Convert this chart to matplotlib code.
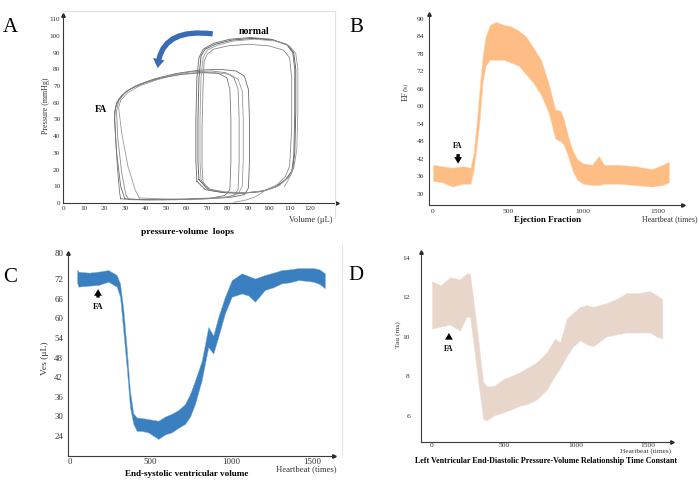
import matplotlib
matplotlib.use("Agg")
import matplotlib.pyplot as plt
from matplotlib.patches import FancyArrowPatch
from matplotlib.lines import Line2D

plt.rcParams['font.family'] = ['Liberation Serif', 'DejaVu Serif']

# ---------------- data ----------------
# Panel A: pressure-volume loops (volume uL, pressure mmHg)
fa1_v = [30, 40, 55, 70, 82, 88, 90, 90.5, 90.5, 90, 88, 84, 76, 66, 55, 45, 37, 31, 27, 25.5, 25, 26, 28, 30]
fa1_p = [2.5, 2, 2, 2.5, 3.5, 5, 9, 25, 50, 68, 76, 79, 80, 79.5, 77.5, 74.5, 71, 67, 62, 57, 50, 30, 10, 2.5]
fa2_v = [32, 42, 55, 68, 78, 83, 85, 85.5, 85.5, 85, 83, 79, 72, 62, 52, 43, 35, 30, 27, 26, 26.5, 28.5, 30.5, 32]
fa2_p = [2, 1.8, 2, 2.5, 3.2, 4.5, 8, 25, 50, 68, 75, 78, 79, 78.5, 76.5, 73.5, 70, 66, 61, 55, 40, 18, 5, 2]
fa3_v = [37, 48, 60, 72, 80, 85, 87, 87.5, 87.5, 87, 85, 81, 74, 64, 54, 45, 37, 31.5, 28, 27, 28.5, 31.5, 35, 37]
fa3_p = [3, 2.5, 2.3, 2.8, 3.8, 5.5, 10, 26, 50, 67, 74, 77, 78, 78, 76.5, 73.5, 70, 66, 61.5, 57, 42, 22, 8, 3]
fa4_v = [28, 38, 50, 62, 72, 78.5, 81, 81.5, 81.5, 81, 79.5, 75.5, 68, 58, 48, 40, 33, 28.5, 26, 25, 25.5, 26.5, 27.5, 28]
fa4_p = [2.5, 2, 2, 2.5, 3, 4.5, 8, 25, 50, 68, 75, 77.5, 78, 77, 75, 72, 68.5, 64.5, 60, 54, 40, 20, 6, 2.5]

n1_v = [66, 70, 78, 88, 97, 104, 109, 111.5, 112.5, 113, 113, 112, 109, 102, 92, 82, 74, 69, 67, 66, 65.5, 65.5, 66]
n1_p = [14, 8.5, 6.5, 6, 7, 10, 15, 20, 30, 55, 80, 90, 94.5, 97.5, 98.5, 97.5, 95, 92, 88, 75, 50, 25, 14]
n2_v = [68, 72, 80, 90, 98, 104, 108, 110, 111, 111, 110, 107, 100, 90, 80, 73, 70, 68.5, 68, 67.5, 67.5, 68]
n2_p = [12, 7.5, 6, 6.2, 7.5, 11, 16, 22, 45, 75, 87, 91.5, 94, 95, 94, 92, 89, 85, 70, 45, 22, 12]
n3_v = [65, 69, 77, 87, 96, 103, 108, 111, 112, 112.5, 112.5, 111.5, 108.5, 101, 91, 81, 73, 68, 66, 65, 64.5, 64.5, 65]
n3_p = [13, 8, 6.3, 5.8, 6.8, 9.5, 14, 19, 28, 55, 80, 90, 95, 98, 99, 98, 95.5, 92, 87, 75, 50, 25, 13]
n4_v = [67, 71, 79, 89, 98, 105, 109.5, 112, 113.5, 114, 114, 113, 110, 103, 93, 83, 75, 70, 68, 67, 66.5, 66.5, 67]
n4_p = [13.5, 8.2, 6.6, 6.2, 7.3, 10.5, 15.5, 21, 32, 55, 80, 89.5, 94, 97, 98, 97, 94.5, 91.5, 87, 75, 50, 25, 13.5]
seg1_v = [83, 88, 93, 97]
seg1_p = [0.5, 1.5, 3.5, 6.5]
seg2_v = [112.5, 111, 109, 107.5]
seg2_p = [25, 18, 13, 10]

# Panel B: ejection fraction envelope (%)
ef_x = [0, 60, 130, 200, 250, 270, 290, 310, 330, 350, 380, 420, 470, 520, 570, 620, 670, 720, 770,
        815, 850, 870, 900, 930, 960, 1000, 1060, 1105, 1140, 1240, 1350, 1460, 1530, 1573]
ef_hi = [40, 39.5, 39, 39.5, 39, 44, 54, 66, 77, 84, 88, 89, 88, 87.5, 86, 84, 80, 76, 68,
         59, 58.5, 56, 50, 45, 42, 40.5, 40, 43, 40, 40, 39.5, 38.5, 40, 41]
ef_lo = [34.5, 34, 32.5, 33.5, 33.5, 38, 46, 55, 68, 74, 76, 76, 76, 75, 74, 71, 68, 64, 58,
         49, 48, 47, 43, 38, 35, 33.5, 33, 33, 33.5, 33.5, 33, 32.5, 33, 34]

# Panel C: end-systolic volume envelope (uL)
ves_x = [45, 53, 120, 176, 238, 290, 311, 331, 352, 372, 393, 414, 450, 486, 548, 590, 630, 672, 713, 745,
         775, 816, 840, 857, 888, 919, 960, 1002, 1064, 1105, 1146, 1208, 1260, 1311, 1360, 1414, 1460, 1507, 1545, 1579]
ves_hi = [75, 74.3, 74, 74.3, 74.8, 73.3, 70.7, 63, 51, 38, 31, 29.7, 29.5, 29.2, 28.7, 30, 30.8, 32, 33.8, 37,
          41, 47, 53, 57.4, 54.8, 60.5, 66.6, 71.7, 73.8, 73, 72.2, 73.3, 74, 74.8, 75, 75.4, 75.4, 75.4, 75, 73.8]
ves_lo = [71, 69.7, 70, 70.2, 71.2, 69.7, 66.6, 56, 45, 33, 27.7, 25.6, 25.5, 25.1, 23.1, 24.5, 25.1, 26.5, 27.7, 30,
          33.8, 41, 47, 51.2, 49.2, 54.3, 61.5, 66.6, 67.6, 67, 65.1, 68.7, 69.5, 70.7, 71, 71.7, 71.5, 71.2, 70.5, 69.2]

# Panel D: Tau envelope (ms)
tau_x = [0, 60, 125, 194, 241, 264, 287, 321, 356, 380, 430, 495, 550, 611, 670, 727, 796, 854, 889, 935,
         980, 1028, 1075, 1120, 1213, 1280, 1352, 1430, 1514, 1560, 1600]
tau_hi = [12.8, 12.6, 13.0, 12.9, 13.2, 13.2, 11.9, 9.9, 7.7, 7.5, 7.5, 7.85, 8.0, 8.2, 8.45, 8.7, 9.2, 9.9, 9.7, 10.9,
          11.2, 11.5, 11.6, 11.5, 11.7, 11.9, 12.2, 12.2, 12.3, 12.1, 11.9]
tau_lo = [10.4, 10.5, 10.6, 10.3, 11.0, 11.0, 9.7, 7.7, 5.8, 5.75, 6.0, 6.16, 6.3, 6.5, 6.6, 6.8, 7.3, 8.0, 8.4, 9.0,
          9.5, 9.8, 9.6, 9.5, 10.0, 10.1, 10.2, 10.2, 10.2, 10.0, 9.9]

a_xticks = list(range(0, 130, 10))
a_yticks = list(range(0, 120, 10))
b_xticks = [0, 500, 1000, 1500]
b_yticks = [30, 36, 42, 48, 54, 60, 66, 72, 78, 84, 90]
c_yticks = [24, 30, 36, 42, 48, 54, 60, 66, 72, 80]
d_yticks = [6, 8, 10, 12, 14]

# ---------------- figure ----------------
W, H = 698, 492
fig = plt.figure(figsize=(W / 100, H / 100), dpi=100)


def rect(l, t, r, b):
    return [l / W, 1 - b / H, (r - l) / W, (b - t) / H]


def ft(x, y, s, **kw):
    return fig.text(x / W, 1 - y / H, s, **kw)


def style(ax, tsize, xpad, ypad):
    for s in ('top', 'right'):
        ax.spines[s].set_visible(False)
    for s in ('left', 'bottom'):
        ax.spines[s].set_color('#3a3a3a')
        ax.spines[s].set_linewidth(0.8)
    ax.tick_params(axis='x', length=0, labelsize=tsize, pad=xpad, colors='#333333')
    ax.tick_params(axis='y', length=0, labelsize=tsize, pad=ypad, colors='#333333')
    ax.plot([1], [0], marker='>', ms=2.5, color='#222222', transform=ax.transAxes, clip_on=False)
    ax.plot([0], [1], marker='^', ms=2.5, color='#222222', transform=ax.transAxes, clip_on=False)


# frame lines (light gray)
fig.add_artist(Line2D([62 / W, 335 / W], [1 - 10.5 / H, 1 - 10.5 / H], color='#e2e2e2', lw=0.8))
fig.add_artist(Line2D([335 / W, 335 / W], [1 - 10.5 / H, 1 - 218 / H], color='#e2e2e2', lw=0.8))
fig.add_artist(Line2D([342 / W, 342 / W], [1 - 245 / H, 1 - 455 / H], color='#e6e6e6', lw=0.8))

# ---- Panel A ----
axA = fig.add_axes(rect(63, 15, 337, 203))
loops = [(fa1_v, fa1_p, '#6a6a6a'), (fa2_v, fa2_p, '#8a8a8a'), (fa3_v, fa3_p, '#9a9a9a'),
         (fa4_v, fa4_p, '#777777'), (n1_v, n1_p, '#555555'), (n2_v, n2_p, '#8a8a8a'),
         (n3_v, n3_p, '#666666'), (n4_v, n4_p, '#999999'), (seg1_v, seg1_p, '#999999'),
         (seg2_v, seg2_p, '#999999')]
for v, p, c in loops:
    axA.plot(v, p, color=c, lw=0.6)
axA.set_xlim(0, 133)
axA.set_ylim(0, 112.5)
axA.set_xticks(a_xticks)
axA.set_yticks(a_yticks)
style(axA, 5.2, 2.5, 2)
arr = FancyArrowPatch(posA=(74, 101), posB=(46, 79),
                      connectionstyle='angle3,angleA=172,angleB=90',
                      arrowstyle='simple,head_width=0.85,head_length=0.65,tail_width=0.38',
                      mutation_scale=10, color='#3a6bb5', lw=0)
axA.add_patch(arr)
ft(254, 31, 'normal', fontsize=7, fontweight='bold', ha='center', va='center')
ft(101, 110, 'FA', fontsize=7, fontweight='bold', ha='center', va='center')
ft(332, 220, 'Volume (μL)', fontsize=6, ha='right', va='center', color='#333333')
ft(46, 106, 'Pressure (mmHg)', fontsize=5.8, ha='center', va='center', rotation=90, color='#333333')
ft(187, 232, 'pressure-volume  loops', fontsize=6.8, fontweight='bold', ha='center', va='center')
ft(10, 28, 'A', fontsize=15, ha='center', va='center')

# ---- Panel B ----
axB = fig.add_axes(rect(429, 14, 683, 205))
axB.fill_between(ef_x, ef_lo, ef_hi, color='#fdbd84', lw=0.3, edgecolor='#fdd3ab')
axB.set_xlim(-27, 1667)
axB.set_ylim(26.2, 91.7)
axB.set_xticks(b_xticks)
axB.set_yticks(b_yticks)
style(axB, 5.4, 3, 3.5)
axB.annotate('', xy=(167, 39.4), xytext=(167, 44.6),
             arrowprops=dict(arrowstyle='simple,head_width=0.7,head_length=0.6,tail_width=0.3',
                             color='black', mutation_scale=8, lw=0))
axB.text(167, 46.3, 'FA', fontsize=5.5, fontweight='bold', ha='center', va='center')
ft(406, 96, 'EF', fontsize=6, ha='center', va='center', rotation=90, color='#333333')
ft(406, 87, '(%)', fontsize=4, ha='center', va='center', rotation=90, color='#333333')
ft(548, 220, 'Ejection Fraction', fontsize=6.5, fontweight='bold', ha='center', va='center')
ft(697, 219, 'Heartbeat (times)', fontsize=5.8, ha='right', va='center', color='#333333')
ft(356, 28, 'B', fontsize=15, ha='center', va='center')

# ---- Panel C ----
axC = fig.add_axes(rect(68, 253, 334, 456))
axC.fill_between(ves_x, ves_lo, ves_hi, color='#3a7fbf', lw=0.3, edgecolor='#7fb0dc')
axC.set_xlim(-11, 1635)
axC.set_ylim(17.9, 80)
axC.set_xticks(b_xticks)
axC.set_yticks(c_yticks)
style(axC, 6.4, 1.5, 3.5)
axC.annotate('', xy=(175, 69.8), xytext=(175, 65.5),
             arrowprops=dict(arrowstyle='simple,head_width=0.7,head_length=0.6,tail_width=0.3',
                             color='black', mutation_scale=8, lw=0))
axC.text(175, 63.6, 'FA', fontsize=6, fontweight='bold', ha='center', va='center')
ft(45, 358, 'Ves (μL)', fontsize=6.8, ha='center', va='center', rotation=90, color='#333333')
ft(187, 474, 'End-systolic ventricular volume', fontsize=6.6, fontweight='bold', ha='center', va='center')
ft(336, 469, 'Heartbeat (times)', fontsize=6.2, ha='right', va='center', color='#333333')
ft(10.5, 278, 'C', fontsize=15, ha='center', va='center')

# ---- Panel D ----
axD = fig.add_axes(rect(421, 252, 672, 442))
axD.fill_between(tau_x, tau_lo, tau_hi, color='#e8d6cb', lw=0.3, edgecolor='#efe2da')
axD.set_xlim(-76, 1667)
axD.set_ylim(4.66, 14.28)
axD.set_xticks(b_xticks)
axD.set_yticks(d_yticks)
style(axD, 5.4, 1.0, 8)
axD.annotate('', xy=(118, 10.32), xytext=(118, 9.72),
             arrowprops=dict(arrowstyle='simple,head_width=0.7,head_length=0.6,tail_width=0.3',
                             color='black', mutation_scale=8, lw=0))
axD.text(118, 9.36, 'FA', fontsize=5.5, fontweight='bold', ha='center', va='center')
ft(398, 335, 'Tau (ms)', fontsize=5.4, ha='center', va='center', rotation=90, color='#333333')
ft(646, 451.5, 'Heartbeat (times)', fontsize=5.2, ha='center', va='center', color='#333333')
ft(546, 461, 'Left Ventricular End-Diastolic Pressure-Volume Relationship Time Constant',
   fontsize=5.8, fontweight='bold', ha='center', va='center')
ft(356, 275, 'D', fontsize=15, ha='center', va='center')

fig.savefig('out.png', dpi=100)
